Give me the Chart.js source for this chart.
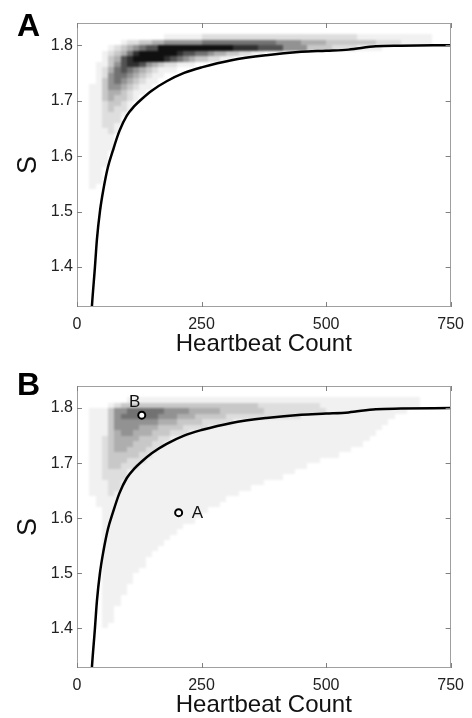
<!DOCTYPE html>
<html><head><meta charset="utf-8">
<script src="https://cdn.jsdelivr.net/npm/chart.js@4.4.0/dist/chart.umd.min.js"></script>
<style>
html,body{margin:0;padding:0;background:#fff;}
.panel{position:relative;width:472px;height:359px;}
canvas{display:block;}
</style></head><body>
<div class="panel"><canvas id="cA" width="472" height="359"></canvas></div>
<div class="panel"><canvas id="cB" width="472" height="359"></canvas></div>
<script>
// ---------------- data ----------------
const panelLabels = ['A', 'B'];
const xTicks = [0, 250, 500, 750];
const yTicks = [1.4, 1.5, 1.6, 1.7, 1.8];
const xTitle = 'Heartbeat Count';
const yTitle = 'S';

// black boundary curve (same in both panels)
const curveCount = [28, 30, 36, 40, 46, 53, 62, 72, 85, 100, 115, 130, 150, 180, 215, 250, 310, 380, 450, 500, 545, 600, 650, 750];
const curveS     = [1.30, 1.33, 1.40, 1.45, 1.50, 1.54, 1.58, 1.61, 1.645, 1.673, 1.69, 1.703, 1.718, 1.735, 1.75, 1.76, 1.773, 1.782, 1.788, 1.790, 1.792, 1.798, 1.799, 1.80];

// density maps: bins of 12.5 heartbeats x 0.01 S, first row = S 1.81-1.82, each next row 0.01 lower
// each row: run-length "level*count" (level 0 = white ... 9 = black)
const heatBinWidth = 12.5;
const heatBinHeight = 0.01;
const heatTopRow = 1.81;
const heatA = [
  "0*14,1*6,2*25,1*12",
  "0*7,1,2*2,3*2,4*2,5*6,6*12,5*4,4*4,3*8,2*4,1*5",
  "0*5,1,2,3,4,5,6,7*2,9*12,8*4,7*4,5*4,3*4,2*4,1*4",
  "0*4,1,2,3,4,6,8,9*6,8,7*2,6*2,5,4*2,3*2,2*2,1*2",
  "0*4,1,3,4,7,8,9*5,8,7,6,5,4,3*2,2*2,1*2",
  "0*3,1*2,3,5,7,8*2,7,5,4,3,2*2,1*3",
  "0*3,1,2,4,6,7,6,5,4,3,2,1*3",
  "0*3,1,2,5,6*2,5,4,3,2,1*2",
  "0*3,1,3,5,6,5,4,3,2,1*2",
  "0*2,1*2,3,5*2,4,3,2,1*2",
  "0*2,1*2,3,4*2,3,2,1*2",
  "0*2,1*2,3,4,3*2,2,1",
  "0*2,1*2,2,3*2,2,1",
  "0*2,1*2,2,3,2*2,1",
  "0*2,1*2,2*3,1",
  "0*2,1*2,2*3",
  "0*2,1*2,2*2,1",
  "0*2,1*3,2,1",
  "0*2,1*4",
  "0*2,1*4",
  "0*2,1*4",
  "0*2,1*3",
  "0*2,1*3",
  "0*2,1*3",
  "0*2,1*2",
  "0*2,1*2",
  "0*2,1*2",
  "0*2,1"
];
const heatB = [
  "0*8,1*47",
  "0*5,1,2,3*22,2*10,1*16",
  "0*2,1*3,3,5*2,6*6,5*4,4*5,3*7,2*10,1*13",
  "0*2,1*3,3,5,6*6,5*3,4*3,3*5,2*12,1*15",
  "0*2,1*3,3,5*7,4*3,3*4,2*5,1*25",
  "0*2,1*3,3,5*4,4*3,3*4,2*4,1*28",
  "0*2,1*3,3,4,5*2,4*3,3*3,2*3,1*30",
  "0*2,1*2,2,3,4*4,3*3,2*2,1*32",
  "0*2,1*2,2,3,4*3,3*3,2*2,1*32",
  "0*2,1*2,2,3,4*2,3*3,2*2,1*31",
  "0*2,1*2,2,3*5,2*2,1*30",
  "0*2,1*2,2,3*3,2*3,1*28",
  "0*2,1*2,2,3*2,2*3,1*27",
  "0*2,1*2,2*4,1*27",
  "0*2,1*2,2*4,1*25",
  "0*2,1*3,2*2,1*23",
  "0*2,1*3,2*2,1*21",
  "0*2,1*3,2,1*20",
  "0*3,1*21",
  "0*3,1*20",
  "0*4,1*17",
  "0*4,1*16",
  "0*4,1*15",
  "0*4,1*13",
  "0*4,1*12",
  "0*4,1*11",
  "0*4,1*10",
  "0*4,1*9",
  "0*4,1*8",
  "0*4,1*7",
  "0*4,1*7",
  "0*4,1*6",
  "0*4,1*5",
  "0*4,1*5",
  "0*4,1*4",
  "0*4,1*4",
  "0*4,1*3",
  "0*4,1*3",
  "0*4,1*2",
  "0*4,1*2",
  "0*4,1*2",
  "0*4,1"
];

// highlighted points in panel B
const markerLabels = ['A', 'B'];
const markerCount = [204, 130];
const markerS = [1.61, 1.787];

// ---------------- rendering ----------------
const FONT = '"Liberation Sans", Arial, Helvetica, sans-serif';
Chart.defaults.font.family = FONT;
const heatGray = [255, 241, 222, 200, 174, 146, 114, 82, 48, 16];

function decodeRow(s) {
  const out = [];
  s.split(',').forEach(tok => {
    const parts = tok.split('*');
    const n = parts.length > 1 ? +parts[1] : 1;
    for (let i = 0; i < n; i++) out.push(+parts[0]);
  });
  return out;
}

const heatPlugin = {
  id: 'heat',
  beforeDatasetsDraw(chart, args, opts) {
    const {ctx, chartArea: a, scales: {x, y}} = chart;
    const off = document.createElement('canvas');
    off.width = chart.width; off.height = chart.height;
    const oc = off.getContext('2d');
    oc.fillStyle = '#fff';
    oc.fillRect(0, 0, off.width, off.height);
    opts.rows.forEach((row, r) => {
      const s0 = heatTopRow - r * heatBinHeight;
      const yTop = Math.round(y.getPixelForValue(s0 + heatBinHeight));
      const yBot = Math.round(y.getPixelForValue(s0));
      decodeRow(row).forEach((lv, c) => {
        if (!lv) return;
        const x0 = Math.round(x.getPixelForValue(c * heatBinWidth));
        const x1 = Math.round(x.getPixelForValue((c + 1) * heatBinWidth));
        const g = heatGray[lv];
        oc.fillStyle = 'rgb(' + g + ',' + g + ',' + g + ')';
        oc.fillRect(x0, yTop, x1 - x0, yBot - yTop);
      });
    });
    ctx.save();
    ctx.beginPath(); ctx.rect(a.left + 1, a.top + 1, a.right - a.left - 2, a.bottom - a.top - 2); ctx.clip();
    ctx.filter = 'blur(1.3px)';
    ctx.drawImage(off, 0, 0);
    ctx.restore();
  }
};

const framePlugin = {
  id: 'frame',
  afterDraw(chart, args, opts) {
    const {ctx, chartArea: a, scales: {x, y}} = chart;
    ctx.save();
    ctx.strokeStyle = '#a0a0a0'; ctx.lineWidth = 1;
    ctx.strokeRect(Math.round(a.left) + 0.5, Math.round(a.top) + 0.5, Math.round(a.right - a.left) - 1, Math.round(a.bottom - a.top) - 1);
    ctx.strokeStyle = '#808080';
    ctx.beginPath();
    x.ticks.forEach(t => {
      const px = Math.round(x.getPixelForValue(t.value)) + 0.5;
      ctx.moveTo(px, a.bottom); ctx.lineTo(px, a.bottom - 5);
      ctx.moveTo(px, a.top); ctx.lineTo(px, a.top + 5);
    });
    y.ticks.forEach(t => {
      const py = Math.round(y.getPixelForValue(t.value)) + 0.5;
      ctx.moveTo(a.left, py); ctx.lineTo(a.left + 5, py);
      ctx.moveTo(a.right, py); ctx.lineTo(a.right - 5, py);
    });
    ctx.stroke();
    ctx.fillStyle = '#000';
    ctx.font = 'bold 32px ' + FONT;
    ctx.textAlign = 'center'; ctx.textBaseline = 'alphabetic';
    ctx.fillText(opts.label, 28.5, 36);
    ctx.restore();
  }
};

const markerLabelPlugin = {
  id: 'markerLabels',
  afterDatasetsDraw(chart, args, opts) {
    if (!opts.show) return;
    const meta = chart.getDatasetMeta(1);
    const ctx = chart.ctx;
    ctx.save();
    ctx.fillStyle = '#111';
    ctx.font = '17px ' + FONT;
    ctx.textBaseline = 'middle';
    meta.data.forEach((pt, i) => {
      const lab = markerLabels[i];
      if (lab === 'B') { ctx.textAlign = 'center'; ctx.fillText(lab, pt.x - 7, pt.y - 13); }
      else { ctx.textAlign = 'left'; ctx.fillText(lab, pt.x + 13, pt.y + 1); }
    });
    ctx.restore();
  }
};

function makeChart(id, heat, withMarkers, label, padTop, plotBottom, titlePadBottom) {
  const datasets = [{
    type: 'line',
    data: curveCount.map((v, i) => ({x: v, y: curveS[i]})),
    borderColor: '#000', borderWidth: 2.5, pointRadius: 0,
    cubicInterpolationMode: 'monotone', fill: false
  }];
  if (withMarkers) {
    datasets.push({
      type: 'scatter',
      data: markerCount.map((v, i) => ({x: v, y: markerS[i]})),
      pointRadius: 3.5, pointBorderWidth: 2, pointBorderColor: '#000',
      pointBackgroundColor: '#fff', showLine: false
    });
  }
  return new Chart(document.getElementById(id), {
    type: 'line',
    data: {datasets},
    options: {
      responsive: false, animation: false, devicePixelRatio: 1,
      layout: {padding: {top: padTop, right: 21, left: 0, bottom: 0}},
      plugins: {
        legend: {display: false}, tooltip: {enabled: false},
        heat: {rows: heat}, frame: {label}, markerLabels: {show: withMarkers}
      },
      scales: {
        x: {
          type: 'linear', min: 0, max: 750,
          afterBuildTicks: s => { s.ticks = xTicks.map(v => ({value: v})); },
          afterFit: s => { s.height = 359 - plotBottom; },
          grid: {display: false, drawTicks: false}, border: {display: false},
          ticks: {autoSkip: false, maxRotation: 0, padding: 8, color: '#222', font: {size: 16}, callback: v => String(v)},
          title: {display: true, text: xTitle, color: '#111', font: {size: 24, lineHeight: 1}, padding: {top: 0, bottom: titlePadBottom}}
        },
        y: {
          type: 'linear', min: 1.328, max: 1.84,
          afterBuildTicks: s => { s.ticks = yTicks.map(v => ({value: v})); },
          afterFit: s => { s.width = 77; },
          grid: {display: false, drawTicks: false}, border: {display: false},
          ticks: {autoSkip: false, padding: 4, color: '#222', font: {size: 16}, callback: v => v.toFixed(1)},
          title: {display: true, text: yTitle, color: '#111', font: {size: 27, lineHeight: 1}, padding: {top: 15, bottom: 0}}
        }
      }
    },
    plugins: [heatPlugin, framePlugin, markerLabelPlugin]
  });
}

makeChart('cA', heatA, false, panelLabels[0], 23, 307, 3);
makeChart('cB', heatB, true, panelLabels[1], 27, 309, 1);
</script>
</body></html>
